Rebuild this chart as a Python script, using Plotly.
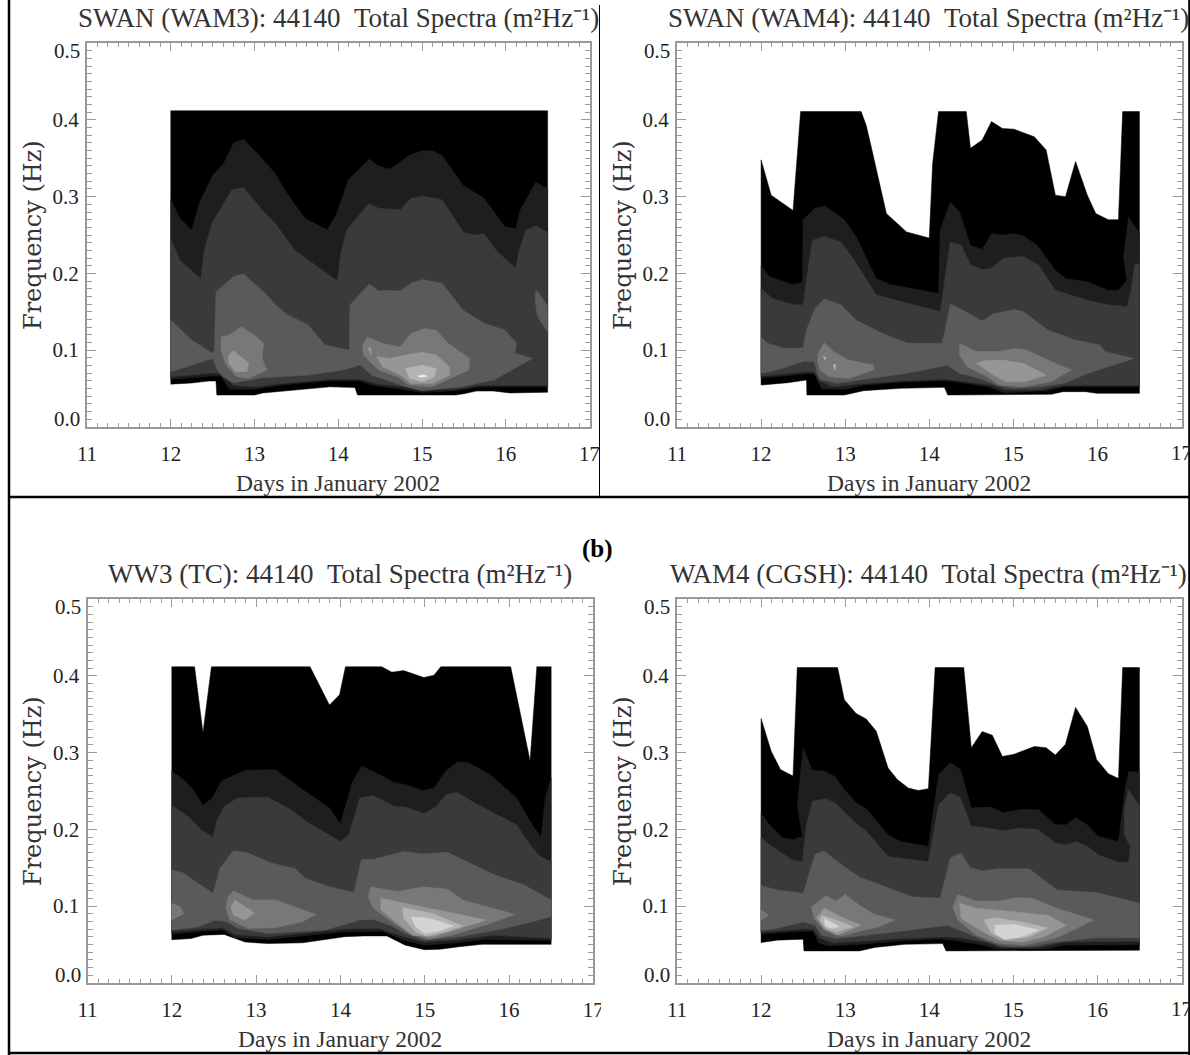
import plotly.graph_objects as go

W, H = 1190, 1055
# ---- grey shades of the filled contour levels (darkest to lightest)
SHADES = ["#000000", "#1e1e1e", "#3a3a3a", "#5a5a5a", "#787878", "#969696", "#b4b4b4", "#d4d4d4", "#f0f0f0"]
X_TICKS = [11, 12, 13, 14, 15, 16, 17]
Y_TICKS = [0.1, 0.2, 0.3, 0.4]
Y_END_TICKS = [0.0, 0.5]
TITLES = ["SWAN (WAM3): 44140", "SWAN (WAM4): 44140", "WW3 (TC): 44140", "WAM4 (CGSH): 44140"]
X_LABEL = "Days in January 2002"
Y_LABEL = "Frequency (Hz)"

# ---------- Panel 1: SWAN (WAM3) ---------- (day, frequency)
P1_L0_TOP = [(12, .412), (16.5, .412)]
P1_L0_BOT = [(12, .0555), (12.25, .057), (12.45, .0595), (12.54, .0595), (12.55, .0413), (13, .0413), (13.1, .044), (13.3, .046), (13.6, .049), (13.9, .052), (14.2, .051), (14.23, .0413), (15.4, .0413), (15.5, .043), (15.65, .0465), (15.85, .0465), (16.05, .044), (16.5, .045)]
P1_L1_TOP = [(12, .296), (12.11, .272), (12.25, .2565), (12.34, .291), (12.5, .328), (12.63, .343), (12.75, .37), (12.87, .375), (13.07, .352), (13.25, .33), (13.39, .304), (13.6, .272), (13.87, .257), (13.98, .278), (14.12, .322), (14.37, .349), (14.48, .34), (14.62, .336), (14.85, .354), (15, .36), (15.12, .36), (15.24, .354), (15.49, .315), (15.74, .298), (15.99, .261), (16.12, .258), (16.17, .282), (16.36, .319), (16.5, .31)]
P1_L1_BOT = [(12, .062), (12.5, .066), (12.6, .066), (12.7, .049), (13, .049), (13.3, .054), (13.9, .06), (14.25, .06), (14.4, .054), (14.75, .049), (15, .0445), (15.4, .047), (15.7, .052), (16.5, .052)]
P1_L2_TOP = [(12, .245), (12.11, .217), (12.36, .193), (12.4, .23), (12.49, .265), (12.73, .309), (12.87, .312), (13.09, .283), (13.25, .265), (13.48, .23), (13.75, .209), (13.99, .19), (14.03, .226), (14.1, .257), (14.37, .291), (14.48, .285), (14.74, .283), (14.87, .298), (15.01, .301), (15.24, .296), (15.5, .253), (15.63, .25), (15.74, .252), (15.9, .228), (16.12, .207), (16.16, .23), (16.24, .256), (16.36, .262), (16.5, .254)]
P1_L2_BOT = [(12, .065), (12.5, .07), (12.6, .069), (12.75, .054), (13, .052), (13.3, .056), (13.9, .062), (14.25, .062), (14.5, .055), (14.8, .052), (15, .048), (15.4, .049), (15.7, .054), (16.5, .054)]
P1_L3_TOP = [(12, .139), (12.25, .113), (12.5, .0957), (12.52, .10), (12.53, .14), (12.54, .176), (12.75, .196), (12.87, .199), (13.11, .176), (13.25, .159), (13.39, .146), (13.64, .133), (13.84, .1065), (14.07, .102), (14.13, .10), (14.14, .159), (14.37, .186), (14.48, .177), (14.62, .178), (14.74, .177), (14.87, .187), (15.01, .192), (15.24, .187), (15.49, .152), (15.74, .135), (15.99, .126), (16.13, .109), (16.11, .0957), (16.32, .089)]
P1_L3_BOT = [(12, .0717), (12.25, .08), (12.5, .0891), (12.55, .075), (12.62, .0652), (12.75, .057), (13.07, .0635), (13.66, .0674), (14.06, .074), (14.26, .0804), (14.4, .067), (14.6, .06), (14.8, .052), (15, .047), (15.47, .052), (15.86, .061), (16.32, .089)]
P1_L3_ISLE = [(16.36, .178), (16.41, .172), (16.5, .157), (16.5, .124), (16.38, .143), (16.35, .165)]
P1_L4_A = [(12.6, .117), (12.7, .1196), (12.84, .1304), (13, .1196), (13.11, .1087), (13.09, .089), (13.15, .074), (12.93, .063), (12.79, .065), (12.66, .08), (12.6, .10)]
P1_L4_B = [(14.35, .117), (14.53, .1087), (14.74, .104), (14.87, .1217), (15.03, .128), (15.17, .126), (15.31, .1087), (15.57, .089), (15.56, .074), (15.3, .061), (15.12, .052), (14.85, .054), (14.71, .065), (14.48, .074), (14.3, .0935), (14.29, .1065)]
P1_L5_A = [(12.75, .099), (12.93, .0826), (12.91, .072), (12.77, .072), (12.69, .0826), (12.69, .0935)]
P1_L5_B = [(14.46, .0913), (14.62, .089), (14.8, .0935), (15, .097), (15.17, .0935), (15.33, .078), (15.33, .0674), (15.12, .0565), (14.87, .0565), (14.74, .0674), (14.53, .078)]
P1_L5_C = [(14.35, .102), (14.39, .104), (14.4, .0935)]
P1_L6_B = [(14.8, .076), (15, .08), (15.17, .076), (15.15, .065), (15, .0587), (14.85, .063)]
P1_L8_B = [(14.95, .0665), (15.03, .0675), (15.06, .0655), (14.97, .0645)]

# ---------- Panel 2: SWAN (WAM4) ----------
P2_L0_TOP = [(12, .348), (12.12, .302), (12.38, .282), (12.41, .326), (12.47, .411), (13.19, .411), (13.25, .393), (13.31, .365), (13.42, .313), (13.49, .278), (13.73, .254), (14, .246), (14.04, .343), (14.11, .411), (14.44, .411), (14.49, .363), (14.63, .374), (14.74, .398), (14.87, .389), (15.01, .388), (15.25, .378), (15.39, .361), (15.5, .302), (15.62, .30), (15.74, .346), (15.88, .302), (15.98, .278), (16.13, .27), (16.25, .27), (16.3, .411), (16.5, .411)]
P2_L0_BOT = [(12, .0543), (12.32, .0574), (12.54, .0609), (12.545, .0413), (12.99, .0413), (13.22, .047), (13.66, .05), (14.18, .0513), (14.22, .0413), (15.45, .0422), (15.59, .0457), (15.86, .0457), (15.99, .0435), (16.5, .0435)]
P2_L1_TOP = [(12, .209), (12.1, .196), (12.37, .185), (12.49, .188), (12.5, .27), (12.64, .285), (12.76, .288), (12.99, .27), (13.13, .248), (13.37, .193), (13.55, .185), (14.11, .174), (14.13, .2565), (14.25, .293), (14.36, .28), (14.49, .237), (14.63, .231), (14.74, .252), (14.87, .25), (15.01, .252), (15.12, .249), (15.28, .237), (15.5, .204), (15.63, .193), (15.88, .189), (16.13, .178), (16.25, .178), (16.35, .191), (16.31, .222), (16.37, .274), (16.5, .252)]
P2_L1_BOT = [(12, .0635), (12.54, .069), (12.63, .069), (12.72, .0495), (13, .049), (13.22, .054), (13.66, .058), (14.18, .06), (14.35, .058), (14.7, .052), (14.9, .044), (15.4, .047), (15.6, .052), (16.5, .052)]
P2_L2_TOP = [(12, .18), (12.14, .167), (12.39, .159), (12.5, .159), (12.55, .2), (12.61, .243), (12.75, .248), (12.95, .241), (13.08, .222), (13.37, .172), (14.13, .15), (14.25, .241), (14.38, .237), (14.49, .211), (14.63, .205), (14.74, .2065), (14.89, .22), (15.12, .222), (15.3, .211), (15.5, .178), (15.88, .165), (16.13, .159), (16.35, .1565), (16.4, .178), (16.44, .211), (16.5, .213)]
P2_L2_BOT = [(12, .066), (12.54, .0715), (12.63, .0715), (12.7, .059), (12.85, .052), (13.2, .056), (13.7, .06), (14.2, .062), (14.4, .059), (14.75, .054), (14.9, .048), (15.3, .048), (15.6, .054), (16.5, .054)]
P2_L3_TOP = [(12, .117), (12.08, .1087), (12.28, .102), (12.5, .103), (12.54, .126), (12.64, .154), (12.75, .167), (12.95, .159), (13.13, .139), (13.44, .122), (13.75, .1087), (14.15, .1087), (14.18, .122), (14.25, .16), (14.4, .152), (14.63, .138), (14.76, .147), (15.01, .153), (15.12, .15), (15.41, .126), (15.74, .113), (16.03, .1065), (16.09, .098), (16.44, .089)]
P2_L3_BOT = [(12, .0696), (12.19, .074), (12.5, .085), (12.63, .085), (12.66, .072), (12.7, .062), (12.9, .0565), (13.1, .059), (13.35, .0635), (13.75, .07), (14.22, .08), (14.35, .07), (14.6, .063), (14.8, .054), (15, .05), (15.3, .052), (15.6, .0565), (15.9, .07), (16.44, .089)]
P2_L4_A = [(12.68, .0957), (12.75, .1096), (12.86, .098), (13.04, .087), (13.34, .0804), (13.34, .074), (13.04, .063), (12.81, .065), (12.7, .074), (12.67, .085)]
P2_L4_B = [(14.36, .1087), (14.56, .098), (14.83, .098), (15.01, .102), (15.16, .1), (15.45, .085), (15.69, .074), (15.45, .0587), (15.1, .052), (14.83, .0543), (14.69, .065), (14.45, .078), (14.36, .0935)]
P2_L5_B = [(14.56, .0826), (14.65, .086), (14.87, .087), (15.12, .0826), (15.39, .0674), (15.14, .0587), (14.92, .0587), (14.76, .0674), (14.65, .076)]
P2_L6_A = [(12.74, .092), (12.77, .09), (12.76, .087)]
P2_L6_B = [(12.86, .081), (12.89, .081), (12.875, .073)]

# ---------- Panel 3: WW3 (TC) ----------
P3_L0_TOP = [(12, .412), (12.27, .412), (12.37, .326), (12.47, .412), (13.64, .412), (13.75, .387), (13.87, .362), (13.99, .3755), (14.06, .412), (14.49, .412), (14.61, .405), (14.75, .407), (14.99, .398), (15.11, .401), (15.19, .412), (16.02, .412), (16.14, .35), (16.25, .289), (16.33, .412), (16.5, .412)]
P3_L0_BOT = [(12, .056), (12.23, .0576), (12.37, .062), (12.62, .063), (12.87, .053), (13.14, .051), (13.55, .052), (14.05, .06), (14.27, .061), (14.55, .061), (14.77, .049), (15, .043), (15.18, .0437), (15.41, .047), (15.68, .05), (16.22, .05), (16.5, .05)]
P3_L1_TOP = [(12, .276), (12.14, .265), (12.25, .252), (12.37, .231), (12.48, .241), (12.59, .263), (12.87, .277), (13.23, .278), (13.55, .252), (13.87, .228), (14, .207), (14.14, .261), (14.25, .2825), (14.5, .2695), (14.64, .261), (14.77, .2585), (14.98, .2507), (15.11, .254), (15.25, .276), (15.39, .288), (15.52, .287), (15.77, .272), (16.09, .241), (16.25, .2105), (16.38, .1895), (16.43, .241), (16.5, .267)]
P3_L1_BOT = [(12, .0635), (12.6, .069), (12.75, .0585), (13.14, .0565), (14.05, .0665), (14.5, .067), (14.75, .0555), (15, .049), (15.4, .052), (15.7, .0565), (16.5, .055)]
P3_L2_TOP = [(12, .231), (12.14, .221), (12.23, .213), (12.34, .2), (12.49, .19), (12.53, .2105), (12.62, .23), (12.78, .241), (13.14, .242), (13.41, .226), (13.59, .2105), (14, .184), (14.1, .193), (14.23, .241), (14.39, .244), (14.64, .23), (14.77, .229), (15, .2205), (15.14, .23), (15.25, .2454), (15.39, .2485), (15.59, .2345), (16.09, .206), (16.25, .18), (16.37, .1646), (16.5, .158)]
P3_L2_BOT = [(12, .067), (12.6, .0715), (12.75, .0625), (13.14, .06), (14.05, .07), (14.45, .071), (14.75, .06), (15, .053), (15.4, .056), (15.8, .062), (16.5, .058)]
P3_L3_TOP = [(12, .147), (12.14, .143), (12.28, .132), (12.49, .1166), (12.57, .149), (12.73, .172), (12.91, .169), (13.18, .156), (13.46, .149), (13.59, .136), (13.87, .125), (14.16, .118), (14.25, .161), (14.39, .161), (14.75, .171), (14.98, .168), (15.27, .17), (15.82, .141), (16.18, .1275), (16.5, .108)]
P3_L3_BOT = [(12, .0686), (12.32, .073), (12.5, .081), (12.64, .08), (12.78, .071), (13.14, .064), (13.82, .0686), (14.23, .0817), (14.39, .0825), (14.59, .075), (14.77, .064), (15, .0555), (15.41, .06), (15.95, .0707), (16.5, .086)]
P3_L4_L = [(12, .1035), (12.1, .099), (12.14, .09), (12, .0817)]
P3_L4_A = [(12.73, .1197), (12.96, .108), (13.23, .108), (13.46, .099), (13.71, .089), (13.55, .0795), (13.23, .0716), (12.91, .0707), (12.69, .0817), (12.64, .097), (12.66, .11)]
P3_L4_B = [(14.36, .125), (14.68, .119), (14.98, .125), (15.27, .122), (15.45, .108), (16.07, .089), (15.77, .077), (15.32, .062), (15.05, .0568), (14.82, .064), (14.64, .077), (14.39, .097), (14.33, .112)]
P3_L5_A = [(12.75, .108), (12.98, .091), (12.87, .0817), (12.73, .088), (12.7, .099)]
P3_L5_B = [(14.48, .11), (14.77, .1035), (15.09, .097), (15.73, .0817), (15.36, .0686), (15.09, .06), (14.86, .062), (14.68, .077), (14.48, .095)]
P3_L6_B = [(14.74, .098), (15.09, .0904), (15.45, .0738), (15.25, .0664), (15.02, .0607), (14.89, .0664), (14.75, .084)]
P3_L7_B = [(14.84, .086), (15.05, .084), (15.34, .0738), (15.14, .0664), (15, .064), (14.89, .073)]

# ---------- Panel 4: WAM4 (CGSH) ----------
P4_L0_TOP = [(12, .3445), (12.12, .302), (12.23, .278), (12.38, .2695), (12.43, .411), (12.91, .411), (12.99, .369), (13.13, .351), (13.25, .344), (13.37, .328), (13.51, .28), (13.62, .265), (13.75, .254), (13.87, .2507), (13.99, .253), (14.07, .411), (14.41, .411), (14.5, .3065), (14.63, .3275), (14.75, .3227), (14.87, .295), (15.01, .298), (15.25, .308), (15.39, .3065), (15.5, .297), (15.62, .311), (15.74, .359), (15.88, .334), (15.99, .291), (16.13, .2725), (16.25, .2664), (16.3, .411), (16.5, .411)]
P4_L0_BOT = [(12, .0524), (12.19, .0555), (12.5, .0568), (12.51, .0415), (13.17, .0415), (13.35, .046), (13.71, .05), (14.16, .051), (14.2, .0415), (16.5, .0424)]
P4_L1_TOP = [(12, .2214), (12.1, .206), (12.25, .1895), (12.38, .1865), (12.49, .191), (12.43, .232), (12.5, .3065), (12.61, .277), (12.75, .276), (12.88, .269), (12.99, .252), (13.13, .2345), (13.26, .2258), (13.51, .193), (13.66, .184), (13.99, .178), (14.11, .2716), (14.25, .287), (14.37, .278), (14.5, .228), (14.74, .229), (14.87, .222), (15.1, .226), (15.3, .226), (15.5, .206), (15.63, .206), (15.74, .215), (15.88, .206), (16.01, .191), (16.25, .184), (16.33, .254), (16.37, .275), (16.5, .275)]
P4_L1_BOT = [(12, .0635), (12.5, .067), (12.62, .067), (12.68, .052), (12.8, .048), (13.2, .05), (13.7, .055), (14.15, .057), (14.3, .055), (14.65, .049), (14.8, .044), (15.4, .044), (15.6, .049), (16.5, .0495)]
P4_L2_TOP = [(12, .1895), (12.1, .18), (12.37, .16), (12.49, .158), (12.54, .206), (12.61, .237), (12.77, .24), (12.88, .2345), (13.13, .208), (13.26, .197), (13.51, .1646), (13.66, .1625), (13.99, .158), (14.11, .232), (14.25, .2476), (14.37, .242), (14.5, .204), (14.65, .2026), (14.87, .198), (15.1, .2017), (15.3, .1996), (15.5, .182), (15.63, .18), (15.74, .184), (15.88, .178), (16.01, .167), (16.25, .157), (16.37, .157), (16.39, .1777), (16.32, .193), (16.32, .228), (16.37, .252), (16.5, .23)]
P4_L2_BOT = [(12, .066), (12.5, .07), (12.62, .07), (12.7, .058), (12.85, .052), (13.2, .054), (13.7, .058), (14.2, .06), (14.4, .058), (14.7, .052), (14.85, .046), (15.3, .046), (15.6, .053), (16.5, .054)]
P4_L3_TOP = [(12, .1266), (12.19, .121), (12.5, .1166), (12.64, .167), (12.75, .172), (12.88, .16), (13.17, .138), (13.8, .112), (14.13, .11), (14.25, .1625), (14.38, .169), (14.49, .15), (14.63, .146), (14.83, .1485), (15.19, .1485), (15.52, .121), (15.99, .1175), (16.5, .1035)]
P4_L3_BOT = [(12, .0686), (12.19, .0707), (12.5, .0795), (12.64, .075), (12.72, .062), (12.9, .0576), (13.44, .064), (14.22, .075), (14.4, .0664), (14.65, .0555), (14.83, .049), (15, .0467), (15.23, .0476), (15.5, .053), (15.99, .0585), (16.5, .0585)]
P4_L4_L = [(12, .095), (12.09, .088), (12, .0817)]
P4_L4_A = [(12.77, .1135), (12.89, .1065), (13, .115), (13.17, .101), (13.33, .09), (13.59, .0817), (13.4, .073), (12.95, .061), (12.75, .0686), (12.63, .084), (12.6, .099)]
P4_L4_B = [(14.34, .115), (14.56, .1065), (14.83, .1065), (15.05, .111), (15.23, .11), (15.52, .097), (15.96, .0817), (15.5, .0576), (15.12, .049), (14.83, .051), (14.56, .062), (14.34, .0817), (14.28, .099)]
P4_L5_A = [(12.75, .097), (12.95, .086), (13.19, .075), (12.9, .062), (12.75, .0707), (12.66, .084)]
P4_L5_B = [(14.36, .1035), (14.56, .097), (15.01, .0926), (15.41, .088), (15.63, .075), (15.37, .06), (15.1, .053), (14.83, .0555), (14.6, .0686), (14.38, .084)]
P4_L6_A = [(12.72, .088), (12.95, .0795), (13.09, .073), (12.9, .0664), (12.77, .0707), (12.7, .0817)]
P4_L6_B = [(14.65, .0817), (14.78, .0847), (15.1, .0795), (15.41, .0716), (15.19, .06), (14.92, .0555), (14.74, .064)]
P4_L7_A = [(12.75, .084), (12.93, .073), (12.84, .0707), (12.76, .075)]
P4_L7_B = [(14.78, .075), (15.01, .076), (15.3, .0686), (15.1, .06), (14.89, .0568), (14.78, .064)]


def band(top, bot):
    return top + bot[::-1]


# (shade index, polygon) painted back to front
PANELS = [
    [(0, band(P1_L0_TOP, P1_L0_BOT)), (1, band(P1_L1_TOP, P1_L1_BOT)), (2, band(P1_L2_TOP, P1_L2_BOT)),
     (3, band(P1_L3_TOP, P1_L3_BOT)), (3, P1_L3_ISLE), (4, P1_L4_A), (4, P1_L4_B), (5, P1_L5_A), (5, P1_L5_B),
     (5, P1_L5_C), (6, P1_L6_B), (8, P1_L8_B)],
    [(0, band(P2_L0_TOP, P2_L0_BOT)), (1, band(P2_L1_TOP, P2_L1_BOT)), (2, band(P2_L2_TOP, P2_L2_BOT)),
     (3, band(P2_L3_TOP, P2_L3_BOT)), (4, P2_L4_A), (4, P2_L4_B), (5, P2_L5_B), (6, P2_L6_A), (6, P2_L6_B)],
    [(0, band(P3_L0_TOP, P3_L0_BOT)), (1, band(P3_L1_TOP, P3_L1_BOT)), (2, band(P3_L2_TOP, P3_L2_BOT)),
     (3, band(P3_L3_TOP, P3_L3_BOT)), (4, P3_L4_L), (4, P3_L4_A), (4, P3_L4_B), (5, P3_L5_A), (5, P3_L5_B),
     (6, P3_L6_B), (7, P3_L7_B)],
    [(0, band(P4_L0_TOP, P4_L0_BOT)), (1, band(P4_L1_TOP, P4_L1_BOT)), (2, band(P4_L2_TOP, P4_L2_BOT)),
     (3, band(P4_L3_TOP, P4_L3_BOT)), (4, P4_L4_L), (4, P4_L4_A), (4, P4_L4_B), (5, P4_L5_A), (5, P4_L5_B),
     (6, P4_L6_A), (6, P4_L6_B), (7, P4_L7_A), (7, P4_L7_B)],
]

# plot boxes in page pixels: left, right, top, bottom
BOXES = [(87, 589.5, 43.3, 426.7), (677, 1181.5, 43.3, 426.7), (87.5, 593.3, 599.3, 982.7), (677, 1181.5, 599.3, 982.7)]
TITLE_CX = [338, 928, 340, 928.5]
TITLE_CY = [18, 18, 574, 574]
XLAB_CX = [338, 929, 340, 929]
XLAB_CY = [483, 483, 1039, 1039]
YLAB_CX = [33, 623, 33, 623]

AXIS_GREY = "#9a9a9a"
TICK_FONT = dict(family="Liberation Serif", size=21, color="#222222")
TXT = "#333333"


def px(x):
    return x / W


def py(y):
    return 1 - y / H


fig = go.Figure()
layout = {}
annotations = []
for i, (polys, box) in enumerate(zip(PANELS, BOXES)):
    n = "" if i == 0 else str(i + 1)
    for shade, poly in polys:
        fig.add_trace(go.Scatter(
            x=[p[0] for p in poly] + [poly[0][0]],
            y=[p[1] for p in poly] + [poly[0][1]],
            mode="lines", fill="toself", fillcolor=SHADES[shade],
            line=dict(color=SHADES[shade], width=0.5),
            hoverinfo="skip", showlegend=False, xaxis="x" + n, yaxis="y" + n))
    l, r, t, b = box
    # the right-hand panels' last day label runs off the page, so it is placed separately below
    xvals = X_TICKS if i in (0, 2) else X_TICKS[:-1]
    layout["xaxis" + n] = dict(
        domain=[px(l), px(r)], range=[11, 17], anchor="y" + n, tickmode="array", tickvals=xvals,
        ticktext=[str(v) for v in xvals], ticks="inside", ticklen=8, tickwidth=1, tickcolor=AXIS_GREY,
        minor=dict(dtick=0.125, ticks="inside", ticklen=4, tickwidth=1, tickcolor=AXIS_GREY),
        showline=True, linecolor=AXIS_GREY, linewidth=2, mirror="ticks", showgrid=False, zeroline=False,
        tickfont=TICK_FONT, ticklabelstandoff=7)
    layout["yaxis" + n] = dict(
        domain=[py(b), py(t)], range=[0, 0.5], anchor="x" + n, tickmode="array", tickvals=Y_TICKS,
        ticktext=[f"{v:.1f}" for v in Y_TICKS], ticks="inside", ticklen=9, tickwidth=1, tickcolor=AXIS_GREY,
        minor=dict(dtick=0.01, ticks="inside", ticklen=5, tickwidth=1, tickcolor=AXIS_GREY),
        showline=True, linecolor=AXIS_GREY, linewidth=2, mirror="ticks", showgrid=False, zeroline=False,
        tickfont=TICK_FONT, ticklabelstandoff=2)
    # the end labels of the frequency axis sit inside the box ends, as in the source plot
    for val, shift in zip(Y_END_TICKS, (8, -8)):
        annotations.append(dict(x=0, xref=("x" + n + " domain"), y=val, yref="y" + n, text=f"{val:.1f}", showarrow=False,
                                xanchor="right", yanchor="middle", xshift=-5, yshift=shift, font=TICK_FONT))
    if i in (1, 3):
        annotations.append(dict(x=X_TICKS[-1], xref="x" + n, y=0, yref="y" + n, text=str(X_TICKS[-1]), showarrow=False,
                                xanchor="center", yanchor="middle", yshift=-26, font=TICK_FONT))
    title = TITLES[i].replace(" ", "\u00a0") + "\u00a0\u00a0Total\u00a0Spectra\u00a0(m\u00b2Hz\u207b\u00b9)"
    annotations.append(dict(x=px(TITLE_CX[i]), y=py(TITLE_CY[i]), xref="paper", yref="paper", text=title,
                            showarrow=False, xanchor="center", yanchor="middle",
                            font=dict(family="Liberation Serif", size=27, color=TXT)))
    annotations.append(dict(x=px(XLAB_CX[i]), y=py(XLAB_CY[i]), xref="paper", yref="paper", text=X_LABEL,
                            showarrow=False, xanchor="center", yanchor="middle",
                            font=dict(family="Liberation Serif", size=23.5, color=TXT)))
    annotations.append(dict(x=px(YLAB_CX[i]), y=py((t + b) / 2), xref="paper", yref="paper", text=Y_LABEL,
                            showarrow=False, textangle=-90, xanchor="center", yanchor="middle",
                            font=dict(family="DejaVu Serif", size=24, color=TXT)))

annotations.append(dict(x=px(597), y=py(549), xref="paper", yref="paper", text="<b>(b)</b>", showarrow=False,
                        xanchor="center", yanchor="middle",
                        font=dict(family="Liberation Serif", size=25, color="#000000")))


def rule(x0, y0, x1, y1, w=2):
    return dict(type="line", xref="paper", yref="paper", x0=px(x0), y0=py(y0), x1=px(x1), y1=py(y1),
                line=dict(color="#000000", width=w), layer="above")


def cover(x0, x1, y0, y1):
    return dict(type="rect", xref="paper", yref="paper", x0=px(x0), x1=px(x1), y0=py(y1), y1=py(y0),
                fillcolor="#ffffff", line=dict(width=0), layer="above")


shapes = [
    cover(599, 615, 440, 465), cover(601, 615, 998, 1025),
    rule(9, 0, 9, 1055, 2.5), rule(8, 497, 1190, 497, 2.5), rule(8, 1053, 1190, 1053, 2.5),
    rule(1189.2, 0, 1189.2, 1055, 2), rule(599.5, 5, 599.5, 497, 1),
]

fig.update_layout(width=W, height=H, margin=dict(l=0, r=0, t=0, b=0, autoexpand=False), paper_bgcolor="white",
                  plot_bgcolor="white", showlegend=False, annotations=annotations, shapes=shapes, **layout)
fig.write_html("out.html", config=dict(displayModeBar=False),
               post_script="document.body.style.margin='0';document.documentElement.style.overflow='hidden';")
